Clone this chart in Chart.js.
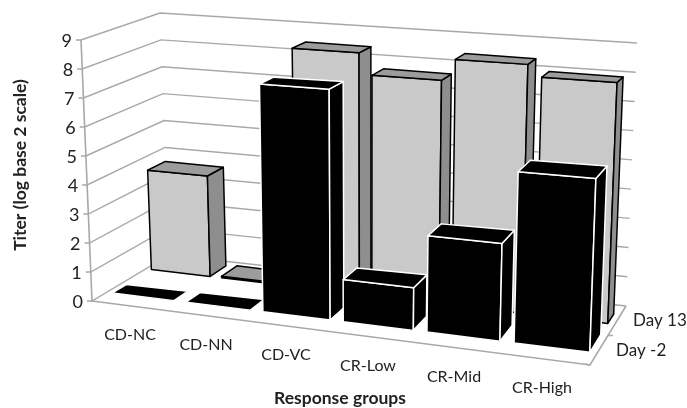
<!DOCTYPE html>
<html>
<head>
<meta charset="utf-8">
<title>Titer by response group</title>
<style>
  body { margin: 0; background: #fff; }
  canvas { display: block; }
</style>
<script src="https://cdn.jsdelivr.net/npm/chart.js@4"></script>
</head>
<body>
<canvas id="chart" width="687" height="408"></canvas>
<script>
// data
const groups = ["CD-NC", "CD-NN", "CD-VC", "CR-Low", "CR-Mid", "CR-High"];
const seriesNames = ["Day -2", "Day 13"];
const dayMinus2 = [0, 0, 7.7, 1.4, 3.15, 5.5];
const day13 = [3.6, 0.05, 8.4, 7.65, 8.4, 8.0];
const yTitle = "Titer (log base 2 scale)";
const xTitle = "Response groups";

// box corners on screen: front/back, left/right, bottom/top
const corners = {
  flb: [92, 301], frb: [590, 365], blb: [169, 255], brb: [626, 306],
  flt: [81, 40], frt: [600, 75], blt: [160, 13], brt: [637, 43]
};
// depth of each row, at the left end and right end of the floor
const rowDepth = [
  { near: [0.19, 0.20], far: [0.37, 0.50] },
  { near: [0.70, 0.69], far: [0.93, 0.85] }
];
const groupLabelPos = [[130, 335], [206, 345], [286, 355], [368, 366], [454, 377], [542, 388]];
const rowLabelPos = [[616, 351], [633, 321]];
const barStyles = [
  { front: "#000", side: "#000", top: "#000", line: "#fff" },
  { front: "#c9c9c9", side: "#8e8e8e", top: "#9c9c9c", line: "#000" }
];
const gridColor = "#a8a8a8";
const textColor = "#222";

function lerp(a, b, t) {
  return a + (b - a) * t;
}

function mix(p, q, t) {
  return [lerp(p[0], q[0], t), lerp(p[1], q[1], t)];
}

// slight foreshortening along the category direction
function warp(u) {
  return u - 0.125 * u * (1 - u);
}

function project(u, v, d) {
  const c = corners;
  const bottom = mix(mix(c.flb, c.frb, u), mix(c.blb, c.brb, u), d);
  const top = mix(mix(c.flt, c.frt, u), mix(c.blt, c.brt, u), d);
  return mix(bottom, top, v);
}

function poly(ctx, pts, fill, line, width) {
  ctx.beginPath();
  pts.forEach((p, i) => (i ? ctx.lineTo(p[0], p[1]) : ctx.moveTo(p[0], p[1])));
  ctx.closePath();
  ctx.fillStyle = fill;
  ctx.fill();
  ctx.lineJoin = "round";
  ctx.lineWidth = width;
  ctx.strokeStyle = line;
  ctx.stroke();
}

function segment(ctx, pts, color, width) {
  ctx.beginPath();
  pts.forEach((p, i) => (i ? ctx.lineTo(p[0], p[1]) : ctx.moveTo(p[0], p[1])));
  ctx.lineWidth = width;
  ctx.strokeStyle = color;
  ctx.stroke();
}

function drawWalls(chart) {
  const ctx = chart.ctx;
  const yScale = chart.scales.y;
  const area = chart.chartArea;

  yScale.ticks.forEach((tick) => {
    const v = (area.bottom - yScale.getPixelForValue(tick.value)) / (area.bottom - area.top);
    const front = project(0, v, 0);
    segment(ctx, [[front[0] - 5, front[1]], front, project(0, v, 1), project(1, v, 1)], gridColor, 1.4);

    ctx.fillStyle = textColor;
    ctx.font = "18px Lato";
    ctx.textAlign = "right";
    ctx.textBaseline = "middle";
    ctx.fillText(tick.label, front[0] - 9, front[1] + 1);
  });

  segment(ctx, [project(0, 1, 0), project(0, 0, 0)], gridColor, 1.6);
  segment(ctx, [project(0, 0, 0), project(1, 0, 0), project(1, 0, 1)], gridColor, 1.6);
  const mid = project(1, 0, 0.5);
  segment(ctx, [mid, [mid[0] + 5, mid[1]]], gridColor, 1.4);
  const end = project(1, 0, 0);
  segment(ctx, [end, [end[0] - 5, end[1] - 1]], gridColor, 1.4);
}

function drawBars(chart) {
  const ctx = chart.ctx;
  const area = chart.chartArea;
  const span = area.right - area.left;
  const rise = area.bottom - area.top;

  [1, 0].forEach((row) => {
    const style = barStyles[row];
    const depth = rowDepth[row];
    chart.getDatasetMeta(row).data.forEach((bar) => {
      const { x, y, base, width } = bar.getProps(["x", "y", "base", "width"], true);
      const u0 = warp((x - width / 2 - area.left) / span);
      const u1 = warp((x + width / 2 - area.left) / span);
      const v0 = (area.bottom - base) / rise;
      const v1 = (area.bottom - y) / rise;
      const dn0 = lerp(depth.near[0], depth.near[1], u0);
      const dn1 = lerp(depth.near[0], depth.near[1], u1);
      const df0 = lerp(depth.far[0], depth.far[1], u0);
      const df1 = lerp(depth.far[0], depth.far[1], u1);

      poly(ctx, [project(u0, v0, dn0), project(u1, v0, dn1), project(u1, v1, dn1), project(u0, v1, dn0)], style.front, style.line, 1.5);
      poly(ctx, [project(u1, v0, dn1), project(u1, v0, df1), project(u1, v1, df1), project(u1, v1, dn1)], style.side, style.line, 1.5);
      poly(ctx, [project(u0, v1, dn0), project(u1, v1, dn1), project(u1, v1, df1), project(u0, v1, df0)], style.top, style.line, 1.5);
    });
  });
}

function drawLabels(chart) {
  const ctx = chart.ctx;
  ctx.fillStyle = textColor;
  ctx.textBaseline = "middle";

  ctx.font = "16px Lato";
  ctx.textAlign = "center";
  chart.data.labels.forEach((label, i) => {
    ctx.fillText(label, groupLabelPos[i][0], groupLabelPos[i][1]);
  });

  ctx.font = "17px Lato";
  ctx.textAlign = "left";
  chart.data.datasets.forEach((set, i) => {
    ctx.fillText(set.label, rowLabelPos[i][0], rowLabelPos[i][1]);
  });

  ctx.font = "bold 17.5px Lato";
  ctx.textAlign = "center";
  ctx.fillText(xTitle, 340, 398);
  ctx.save();
  ctx.translate(20, 165);
  ctx.rotate(-Math.PI / 2);
  ctx.fillText(yTitle, 0, 0);
  ctx.restore();
}

const box3d = {
  id: "box3d",
  beforeDatasetsDraw(chart) {
    drawWalls(chart);
    drawBars(chart);
    drawLabels(chart);
    return false;
  }
};

new Chart(document.getElementById("chart").getContext("2d"), {
  type: "bar",
  data: {
    labels: groups,
    datasets: [
      { label: seriesNames[0], data: dayMinus2, backgroundColor: "#000" },
      { label: seriesNames[1], data: day13, backgroundColor: "#c9c9c9" }
    ]
  },
  options: {
    responsive: false,
    animation: false,
    devicePixelRatio: 1,
    layout: { padding: { left: 92, right: 97, top: 40, bottom: 107 } },
    datasets: { bar: { grouped: false, categoryPercentage: 0.84, barPercentage: 1 } },
    plugins: { legend: { display: false }, tooltip: { enabled: false } },
    scales: {
      x: { type: "category", display: false },
      y: { type: "linear", display: false, min: 0, max: 9, ticks: { stepSize: 1 } }
    }
  },
  plugins: [box3d]
});
</script>
</body>
</html>
